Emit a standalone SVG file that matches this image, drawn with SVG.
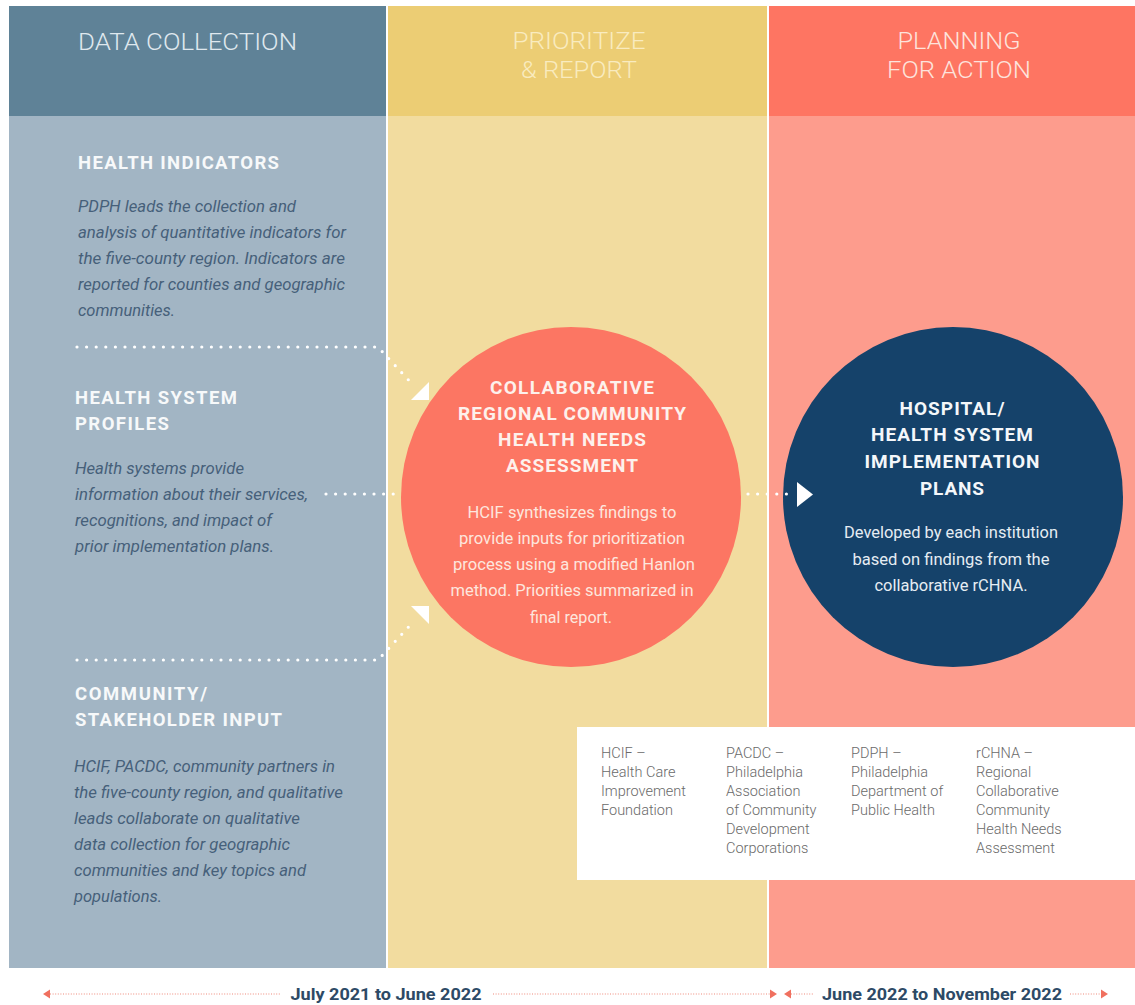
<svg xmlns="http://www.w3.org/2000/svg" width="1135" height="1005" viewBox="0 0 1135 1005">
  <style>
    .hdr { font-family: Roboto, "Liberation Sans", sans-serif; font-weight: 300; font-size: 24.5px; }
    .ttl { font-family: Roboto, "Liberation Sans", sans-serif; font-weight: 700; font-size: 18.5px; fill: #f7f9fa; }
    .body { font-family: Roboto, "Liberation Sans", sans-serif; font-style: italic; font-size: 16px; fill: #46607a; }
    .ctl { font-family: Roboto, "Liberation Sans", sans-serif; font-weight: 700; font-size: 19px; fill: #fdf1ec; text-anchor: middle; }
    .cbd { font-family: Roboto, "Liberation Sans", sans-serif; font-size: 16px; fill: #fde6de; text-anchor: middle; }
    .rtl { font-family: Roboto, "Liberation Sans", sans-serif; font-weight: 700; font-size: 19px; fill: #f4f7fa; text-anchor: middle; }
    .rbd { font-family: Roboto, "Liberation Sans", sans-serif; font-size: 16px; fill: #e6edf3; text-anchor: middle; }
    .leg { font-family: Roboto, "Liberation Sans", sans-serif; font-weight: 300; font-size: 14.5px; fill: #6a6a6a; }
    .tl { font-family: Roboto, "Liberation Sans", sans-serif; font-weight: 700; font-size: 17px; fill: #2d4a66; text-anchor: middle; }
    .dots { fill: none; stroke: #ffffff; stroke-width: 3.2; stroke-linecap: round; stroke-dasharray: 0 9.6; }
    .tline { fill: none; stroke: #ef8a7c; stroke-width: 1.2; stroke-dasharray: 1 1.6; }
    .tarrow { fill: #f0705f; }
    .head { fill: #ffffff; }
  </style>

  <rect x="0" y="0" width="1135" height="1005" fill="#ffffff"/>

  <!-- Phase columns -->
  <g id="col-data-collection">
    <rect x="9" y="6" width="377" height="962" fill="#a2b5c4"/>
    <rect x="9" y="6" width="377" height="110" fill="#5f8297"/>
    <text class="hdr" x="78" y="50" fill="#dfe8ee" textLength="219" lengthAdjust="spacingAndGlyphs">DATA COLLECTION</text>
  </g>
  <g id="col-prioritize">
    <rect x="388" y="6" width="379" height="962" fill="#f2dc9f"/>
    <rect x="388" y="6" width="379" height="110" fill="#eccd74"/>
    <text class="hdr" x="579" y="49" fill="#f9ebbf" text-anchor="middle" textLength="133" lengthAdjust="spacingAndGlyphs">PRIORITIZE</text>
    <text class="hdr" x="579" y="78" fill="#f9ebbf" text-anchor="middle" textLength="116" lengthAdjust="spacingAndGlyphs">&amp; REPORT</text>
  </g>
  <g id="col-planning">
    <rect x="769" y="6" width="366" height="962" fill="#fd9c8d"/>
    <rect x="769" y="6" width="366" height="110" fill="#fe7562"/>
    <text class="hdr" x="959" y="49" fill="#fde3dc" text-anchor="middle" textLength="123" lengthAdjust="spacingAndGlyphs">PLANNING</text>
    <text class="hdr" x="959" y="78" fill="#fde3dc" text-anchor="middle" textLength="144" lengthAdjust="spacingAndGlyphs">FOR ACTION</text>
  </g>

  <!-- Data collection inputs -->
  <g id="health-indicators">
    <text class="ttl" x="78" y="169" textLength="201" lengthAdjust="spacing">HEALTH INDICATORS</text>
    <text class="body" x="78" y="212" textLength="218" lengthAdjust="spacingAndGlyphs">PDPH leads the collection and</text>
    <text class="body" x="78" y="238" textLength="268" lengthAdjust="spacingAndGlyphs">analysis of quantitative indicators for</text>
    <text class="body" x="78" y="264" textLength="267" lengthAdjust="spacingAndGlyphs">the five-county region. Indicators are</text>
    <text class="body" x="78" y="290" textLength="267" lengthAdjust="spacingAndGlyphs">reported for counties and geographic</text>
    <text class="body" x="78" y="316" textLength="97" lengthAdjust="spacingAndGlyphs">communities.</text>
  </g>
  <g id="health-system-profiles">
    <text class="ttl" x="75" y="404" textLength="162" lengthAdjust="spacing">HEALTH SYSTEM</text>
    <text class="ttl" x="75" y="430" textLength="94" lengthAdjust="spacing">PROFILES</text>
    <text class="body" x="75" y="474" textLength="169" lengthAdjust="spacingAndGlyphs">Health systems provide</text>
    <text class="body" x="75" y="500" textLength="233" lengthAdjust="spacingAndGlyphs">information about their services,</text>
    <text class="body" x="75" y="526" textLength="197" lengthAdjust="spacingAndGlyphs">recognitions, and impact of</text>
    <text class="body" x="75" y="552" textLength="199" lengthAdjust="spacingAndGlyphs">prior implementation plans.</text>
  </g>
  <g id="community-input">
    <text class="ttl" x="75" y="700" textLength="132" lengthAdjust="spacing">COMMUNITY/</text>
    <text class="ttl" x="75" y="726" textLength="207" lengthAdjust="spacing">STAKEHOLDER INPUT</text>
    <text class="body" x="74" y="772" textLength="261" lengthAdjust="spacingAndGlyphs">HCIF, PACDC, community partners in</text>
    <text class="body" x="74" y="798" textLength="269" lengthAdjust="spacingAndGlyphs">the five-county region, and qualitative</text>
    <text class="body" x="74" y="824" textLength="226" lengthAdjust="spacingAndGlyphs">leads collaborate on qualitative</text>
    <text class="body" x="74" y="850" textLength="216" lengthAdjust="spacingAndGlyphs">data collection for geographic</text>
    <text class="body" x="74" y="876" textLength="232" lengthAdjust="spacingAndGlyphs">communities and key topics and</text>
    <text class="body" x="74" y="902" textLength="88" lengthAdjust="spacingAndGlyphs">populations.</text>
  </g>

  <!-- Central assessment -->
  <g id="rchna">
    <circle cx="571" cy="497" r="170" fill="#fc7663"/>
    <text class="ctl" x="572" y="394" textLength="164" lengthAdjust="spacing">COLLABORATIVE</text>
    <text class="ctl" x="572" y="420" textLength="228" lengthAdjust="spacing">REGIONAL COMMUNITY</text>
    <text class="ctl" x="572" y="446" textLength="148" lengthAdjust="spacing">HEALTH NEEDS</text>
    <text class="ctl" x="572" y="472" textLength="132" lengthAdjust="spacing">ASSESSMENT</text>
    <text class="cbd" x="572" y="518" textLength="209" lengthAdjust="spacingAndGlyphs">HCIF synthesizes findings to</text>
    <text class="cbd" x="572" y="544" textLength="226" lengthAdjust="spacingAndGlyphs">provide inputs for prioritization</text>
    <text class="cbd" x="574" y="570" textLength="242" lengthAdjust="spacingAndGlyphs">process using a modified Hanlon</text>
    <text class="cbd" x="572" y="596" textLength="243" lengthAdjust="spacingAndGlyphs">method. Priorities summarized in</text>
    <text class="cbd" x="571" y="623" textLength="82" lengthAdjust="spacingAndGlyphs">final report.</text>
  </g>

  <!-- Implementation plans -->
  <g id="implementation-plans">
    <circle cx="953" cy="497" r="170" fill="#15426a"/>
    <text class="rtl" x="952" y="415" textLength="105" lengthAdjust="spacing">HOSPITAL/</text>
    <text class="rtl" x="952" y="441" textLength="162" lengthAdjust="spacing">HEALTH SYSTEM</text>
    <text class="rtl" x="952" y="468" textLength="175" lengthAdjust="spacing">IMPLEMENTATION</text>
    <text class="rtl" x="952" y="495" textLength="64" lengthAdjust="spacing">PLANS</text>
    <text class="rbd" x="951" y="538" textLength="214" lengthAdjust="spacingAndGlyphs">Developed by each institution</text>
    <text class="rbd" x="951" y="565" textLength="197" lengthAdjust="spacingAndGlyphs">based on findings from the</text>
    <text class="rbd" x="951" y="591" textLength="153" lengthAdjust="spacingAndGlyphs">collaborative rCHNA.</text>
  </g>

  <!-- Flow connectors -->
  <g id="connectors">
    <path class="dots" d="M77,347 H378 L414,386"/>
    <polygon class="head" points="429,382 429,400 411,400"/>
    <path class="dots" d="M77,660 H378 L414,621"/>
    <polygon class="head" points="411,606 429,606 429,624"/>
    <path class="dots" d="M326,494 H394"/>
    <path class="dots" d="M748,494 H792"/>
    <polygon class="head" points="797,482 813,494.5 797,507"/>
  </g>

  <!-- Abbreviations -->
  <g id="legend">
    <rect x="577" y="727" width="558" height="153" fill="#ffffff"/>
    <text class="leg" x="601" y="758">HCIF –</text>
    <text class="leg" x="601" y="777">Health Care</text>
    <text class="leg" x="601" y="796">Improvement</text>
    <text class="leg" x="601" y="815">Foundation</text>
    <text class="leg" x="726" y="758">PACDC –</text>
    <text class="leg" x="726" y="777">Philadelphia</text>
    <text class="leg" x="726" y="796">Association</text>
    <text class="leg" x="726" y="815">of Community</text>
    <text class="leg" x="726" y="834">Development</text>
    <text class="leg" x="726" y="853">Corporations</text>
    <text class="leg" x="851" y="758">PDPH –</text>
    <text class="leg" x="851" y="777">Philadelphia</text>
    <text class="leg" x="851" y="796">Department of</text>
    <text class="leg" x="851" y="815">Public Health</text>
    <text class="leg" x="976" y="758">rCHNA –</text>
    <text class="leg" x="976" y="777">Regional</text>
    <text class="leg" x="976" y="796">Collaborative</text>
    <text class="leg" x="976" y="815">Community</text>
    <text class="leg" x="976" y="834">Health Needs</text>
    <text class="leg" x="976" y="853">Assessment</text>
  </g>

  <!-- Timeline -->
  <g id="timeline">
    <polygon class="tarrow" points="43,994 50,989.5 50,998.5"/>
    <path class="tline" d="M50,994 H280"/>
    <text class="tl" x="386" y="1000" textLength="191" lengthAdjust="spacingAndGlyphs">July 2021 to June 2022</text>
    <path class="tline" d="M493,994 H770"/>
    <polygon class="tarrow" points="777,994 770,989.5 770,998.5"/>
    <polygon class="tarrow" points="784,994 791,989.5 791,998.5"/>
    <path class="tline" d="M791,994 H813"/>
    <text class="tl" x="942" y="1000" textLength="240" lengthAdjust="spacingAndGlyphs">June 2022 to November 2022</text>
    <path class="tline" d="M1070,994 H1101"/>
    <polygon class="tarrow" points="1108,994 1101,989.5 1101,998.5"/>
  </g>
</svg>
